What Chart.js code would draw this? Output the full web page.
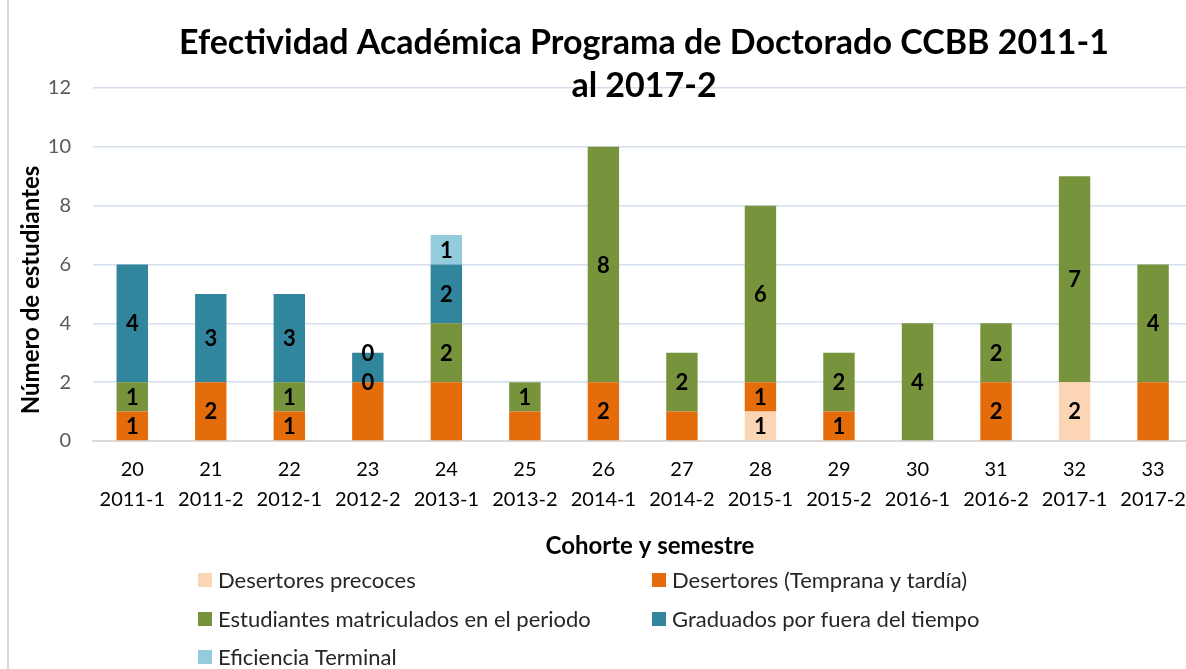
<!DOCTYPE html>
<html>
<head>
<meta charset="utf-8">
<script src="https://cdn.jsdelivr.net/npm/chart.js@4"></script>
<style>
html,body{margin:0;padding:0;overflow:hidden;background:#fff;}
#wrap{width:1186px;height:669px;overflow:hidden;position:relative;}
canvas{display:block;}
</style>
</head>
<body>
<div id="wrap"><canvas id="c" width="1200" height="669"></canvas></div>
<script>
// ---- data ----
const cohorts = ['20','21','22','23','24','25','26','27','28','29','30','31','32','33'];
const semesters = ['2011-1','2011-2','2012-1','2012-2','2013-1','2013-2','2014-1','2014-2','2015-1','2015-2','2016-1','2016-2','2017-1','2017-2'];
const seriesNames = ['Desertores precoces','Desertores (Temprana y tardía)','Estudiantes matriculados en el periodo','Graduados por fuera del tiempo','Eficiencia Terminal'];
const desertoresPrecoces   = [0,0,0,0,0,0,0,0,1,0,0,0,2,0];
const desertoresTempTardia = [1,2,1,2,2,1,2,1,1,1,0,2,0,2];
const matriculados         = [1,0,1,0,2,1,8,2,6,2,4,2,7,4];
const graduadosFuera       = [4,3,3,1,2,0,0,0,0,0,0,0,0,0];
const eficienciaTerminal   = [0,0,0,0,1,0,0,0,0,0,0,0,0,0];
// labels displayed on each segment (null = no label)
const lblPrecoces   = [null,null,null,null,null,null,null,null,'1',null,null,null,'2',null];
const lblTempTardia = ['1','2','1',null,null,null,'2',null,'1','1',null,'2',null,null];
const lblMatric     = ['1',null,'1','0','2','1','8','2','6','2','4','2','7','4'];
const lblGraduados  = ['4','3','3',null,'2',null,null,null,null,null,null,null,null,null];
const lblEficiencia = [null,null,null,'0','1',null,null,null,null,null,null,null,null,null];
const yTicks = [0,2,4,6,8,10,12];
const titleLines = ['Efectividad Académica Programa de Doctorado CCBB 2011-1','al 2017-2'];
const xTitle = 'Cohorte y semestre';
const yTitle = 'Número de estudiantes';

const colors = ['#FCD5B5','#E46C0A','#77933C','#31859C','#93CDDD'];
const FONT = 'Lato, "Open Sans", sans-serif';

const labels = cohorts.map((c,i)=>[c, semesters[i]]);
const seriesData = [desertoresPrecoces, desertoresTempTardia, matriculados, graduadosFuera, eficienciaTerminal];
const seriesLabels = [lblPrecoces, lblTempTardia, lblMatric, lblGraduados, lblEficiencia];

const datasets = seriesData.map((d,i)=>({
  label: seriesNames[i],
  data: d,
  backgroundColor: colors[i],
  borderWidth: 0,
  barPercentage: 0.4,
  categoryPercentage: 1.0,
  segLabels: seriesLabels[i]
}));

const decor = {
  id:'decor',
  afterDatasetsDraw(chart){
    const ctx = chart.ctx;
    ctx.save();
    ctx.font = 'bold 22px ' + FONT;
    ctx.fillStyle = '#000';
    ctx.textAlign = 'center';
    ctx.textBaseline = 'middle';
    chart.data.datasets.forEach((ds,di)=>{
      const meta = chart.getDatasetMeta(di);
      meta.data.forEach((el,i)=>{
        const t = ds.segLabels[i];
        if (t === null || t === undefined) return;
        const p = el.getProps(['x','y','base'], true);
        ctx.fillText(t, p.x, (p.y + p.base)/2 + 1);
      });
    });
    ctx.restore();
  },
  afterDraw(chart){
    const ctx = chart.ctx;
    ctx.save();
    ctx.strokeStyle = '#d9d9d9';
    ctx.lineWidth = 2;
    ctx.beginPath(); ctx.moveTo(8,0); ctx.lineTo(8,669); ctx.stroke();
    ctx.fillStyle = '#000';
    ctx.textAlign = 'center';
    ctx.textBaseline = 'middle';
    ctx.font = 'bold 34px ' + FONT;
    ctx.fillText(titleLines[0], 644, 43);
    ctx.fillText(titleLines[1], 644, 86);
    ctx.font = 'bold 24px ' + FONT;
    ctx.fillText(xTitle, 650, 546);
    ctx.save();
    ctx.translate(31, 290);
    ctx.rotate(-Math.PI/2);
    ctx.fillText(yTitle, 0, 0);
    ctx.restore();
    const pos = [[198,580],[652,580],[198,619],[652,619],[198,657]];
    ctx.font = '22px ' + FONT;
    ctx.textAlign = 'left';
    chart.data.datasets.forEach((ds,i)=>{
      const [x,y] = pos[i];
      ctx.fillStyle = ds.backgroundColor;
      ctx.fillRect(x, y-7, 14, 14);
      ctx.fillStyle = '#262626';
      ctx.fillText(ds.label, x+20, y+1);
    });
    ctx.restore();
  }
};

new Chart(document.getElementById('c'), {
  type:'bar',
  data:{labels, datasets},
  plugins:[decor],
  options:{
    responsive:false,
    animation:false,
    layout:{padding:{top:88,right:6,left:0,bottom:0}},
    plugins:{legend:{display:false}, title:{display:false}, tooltip:{enabled:false}},
    scales:{
      x:{
        stacked:true,
        grid:{display:false, drawTicks:false},
        border:{display:true,color:'#d9d9d9',width:2},
        ticks:{font:{family:FONT,size:20,lineHeight:1.5},color:'#000',padding:14,maxRotation:0,autoSkip:false},
        afterFit(s){ s.height = 669-441; }
      },
      y:{
        stacked:true,
        min:0,max:12,
        afterBuildTicks(s){ s.ticks = yTicks.map(v=>({value:v})); },
        grid:{color:(c)=>c.tick && c.tick.value===0 ? 'rgba(0,0,0,0)' : '#d5deec', lineWidth:1.5, drawTicks:false},
        border:{display:false},
        ticks:{font:{family:FONT,size:20},color:'#595959',padding:22},
        afterFit(s){ s.width = 93; }
      }
    }
  }
});
</script>
</body>
</html>
